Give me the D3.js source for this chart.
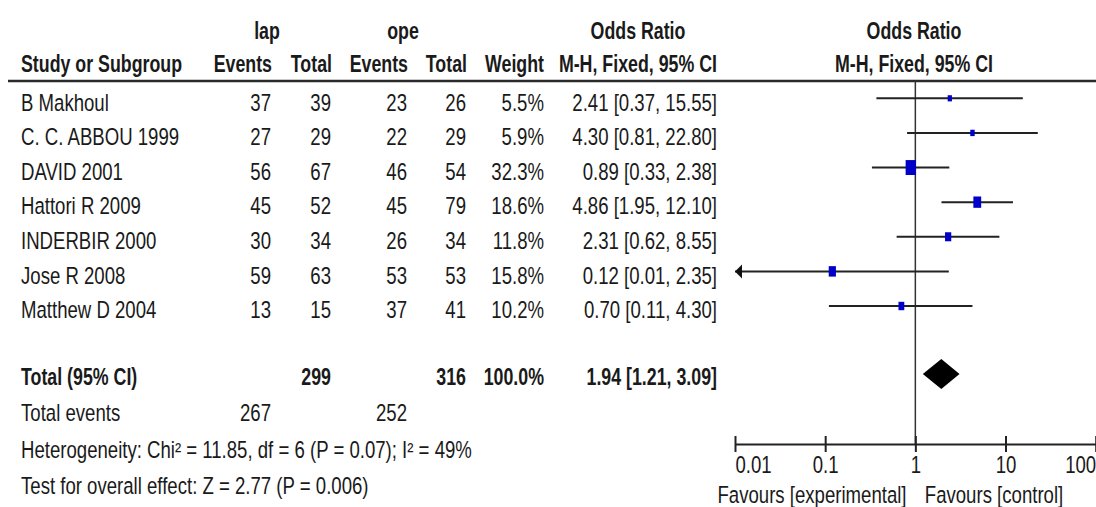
<!DOCTYPE html>
<html><head><meta charset="utf-8">
<script src="https://cdn.jsdelivr.net/npm/d3@7"></script>
<style>
html,body{margin:0;padding:0;background:#fff;}
svg text{font-family:"Liberation Sans",Arial,sans-serif;fill:#1a1a1a;}
</style></head>
<body>
<svg id="chart" width="1096" height="507"></svg>
<script>
const studies = ["B Makhoul","C. C. ABBOU 1999","DAVID 2001","Hattori R 2009","INDERBIR 2000","Jose R 2008","Matthew D 2004"];
const lapEvents = [37,27,56,45,30,59,13];
const lapTotal = [39,29,67,52,34,63,15];
const opeEvents = [23,22,46,45,26,53,37];
const opeTotal = [26,29,54,79,34,53,41];
const weights = [5.5,5.9,32.3,18.6,11.8,15.8,10.2];
const oddsRatio = [2.41,4.30,0.89,4.86,2.31,0.12,0.70];
const ciLower = [0.37,0.81,0.33,1.95,0.62,0.01,0.11];
const ciUpper = [15.55,22.80,2.38,12.10,8.55,2.35,4.30];
const totalOR = [1.94, 1.21, 3.09];
const totalN = [299, 316];
const totalEvents = [267, 252];
const tickValues = [0.01, 0.1, 1, 10, 100];
const tickLabels = ["0.01", "0.1", "1", "10", "100"];
const footLines = ["Heterogeneity: Chi\u00b2 = 11.85, df = 6 (P = 0.07); I\u00b2 = 49%", "Test for overall effect: Z = 2.77 (P = 0.006)"];

const svg = d3.select("#chart");
const FS = 18.6, SY = 1.24, FSB = 17.8, SYB = 1.3;
function txt(x, y, s, opts = {}) {
  const b = !!opts.bold;
  return svg.append("text")
    .attr("transform", `translate(${x},${y}) scale(1,${b ? SYB : SY})`)
    .attr("dominant-baseline", "central")
    .attr("text-anchor", opts.anchor || "start")
    .attr("font-weight", b ? "bold" : "normal")
    .attr("font-size", b ? FSB : FS)
    .text(s);
}

const x = d3.scaleLog().domain([0.01, 100]).range([735, 1095.7]);
const y = d3.scaleLinear().domain([0, studies.length - 1]).range([98.3, 306]);
const sizeW = d3.scaleSqrt().domain([0, 32.3]).range([0, 10.3]);
const TOFF = 4;
const cols = {lapE: 271, lapT: 331, opeE: 407, opeT: 466, w: 544, or: 717};

// headers
txt(267, 31, "lap", {anchor: "middle", bold: true});
txt(403, 31, "ope", {anchor: "middle", bold: true});
txt(638, 31, "Odds Ratio", {anchor: "middle", bold: true});
txt(914, 31, "Odds Ratio", {anchor: "middle", bold: true});
txt(21, 64, "Study or Subgroup", {bold: true});
txt(cols.lapE + 1, 64, "Events", {anchor: "end", bold: true});
txt(cols.lapT + 1, 64, "Total", {anchor: "end", bold: true});
txt(cols.opeE + 1, 64, "Events", {anchor: "end", bold: true});
txt(cols.opeT + 1, 64, "Total", {anchor: "end", bold: true});
txt(cols.w, 64, "Weight", {anchor: "end", bold: true});
txt(cols.or, 64, "M-H, Fixed, 95% CI", {anchor: "end", bold: true});
txt(914, 64, "M-H, Fixed, 95% CI", {anchor: "middle", bold: true});

// header rule
svg.append("line").attr("x1", 8).attr("x2", 1096).attr("y1", 81).attr("y2", 81)
  .attr("stroke", "#2a2a2a").attr("stroke-width", 2.5);

// vertical line at 1
svg.append("line").attr("x1", x(1)).attr("x2", x(1)).attr("y1", 81).attr("y2", 444)
  .attr("stroke", "#333").attr("stroke-width", 1.5);

const fmt2 = d3.format(".2f");
studies.forEach((s, i) => {
  const yy = y(i) + TOFF;
  txt(21, yy, s);
  txt(cols.lapE, yy, lapEvents[i], {anchor: "end"});
  txt(cols.lapT, yy, lapTotal[i], {anchor: "end"});
  txt(cols.opeE, yy, opeEvents[i], {anchor: "end"});
  txt(cols.opeT, yy, opeTotal[i], {anchor: "end"});
  txt(cols.w, yy, weights[i].toFixed(1) + "%", {anchor: "end"});
  txt(cols.or, yy, `${fmt2(oddsRatio[i])} [${fmt2(ciLower[i])}, ${fmt2(ciUpper[i])}]`, {anchor: "end"});
});

// CI lines
const g = svg.append("g");
g.selectAll("line.ci").data(studies).join("line").attr("class", "ci")
  .attr("x1", (d, i) => x(Math.max(ciLower[i], 0.01)))
  .attr("x2", (d, i) => x(Math.min(ciUpper[i], 100)))
  .attr("y1", (d, i) => y(i)).attr("y2", (d, i) => y(i))
  .attr("stroke", "#222").attr("stroke-width", 2);
// arrows where CI exceeds range
g.selectAll("path.arrow").data(studies.map((d, i) => i).filter(i => ciLower[i] <= 0.01)).join("path")
  .attr("class", "arrow")
  .attr("d", i => `M${x(0.01)},${y(i)} L${x(0.01) + 7},${y(i) - 7} L${x(0.01) + 7},${y(i) + 7} Z`)
  .attr("fill", "#111");
// squares
g.selectAll("rect.sq").data(studies).join("rect").attr("class", "sq")
  .attr("x", (d, i) => x(oddsRatio[i]) - sizeW(weights[i]) / 2)
  .attr("y", (d, i) => y(i) - sizeW(weights[i]) * 1.45 / 2)
  .attr("width", (d, i) => sizeW(weights[i]))
  .attr("height", (d, i) => sizeW(weights[i]) * 1.45)
  .attr("fill", "#0000c8");

// total row
const ty = 374;
txt(21, ty + 3, "Total (95% CI)", {bold: true});
txt(cols.lapT, ty + 3, totalN[0], {anchor: "end", bold: true});
txt(cols.opeT, ty + 3, totalN[1], {anchor: "end", bold: true});
txt(cols.w, ty + 3, "100.0%", {anchor: "end", bold: true});
txt(cols.or, ty + 3, `${fmt2(totalOR[0])} [${fmt2(totalOR[1])}, ${fmt2(totalOR[2])}]`, {anchor: "end", bold: true});
svg.append("path")
  .attr("d", `M${x(totalOR[1])},${ty} L${x(totalOR[0])},${ty - 15} L${x(totalOR[2])},${ty} L${x(totalOR[0])},${ty + 15} Z`)
  .attr("fill", "#000");

txt(21, 413, "Total events");
txt(cols.lapE, 413, totalEvents[0], {anchor: "end"});
txt(cols.opeE, 413, totalEvents[1], {anchor: "end"});
txt(21, 450, footLines[0]);
txt(21, 486, footLines[1]);

// axis
const axis = d3.axisBottom(x).tickValues(tickValues).tickFormat((d, i) => tickLabels[i]).tickSizeOuter(0);
const ag = svg.append("g").attr("transform", "translate(0,444)").call(axis);
ag.select(".domain").attr("stroke", "#222").attr("stroke-width", 2);
ag.selectAll(".tick line").attr("y1", -8).attr("y2", 8).attr("stroke", "#222").attr("stroke-width", 2);
ag.selectAll(".tick text")
  .attr("y", null).attr("dy", null)
  .attr("transform", `translate(0,21) scale(1,${SY})`)
  .attr("dominant-baseline", "central")
  .attr("font-size", FS).attr("fill", "#1a1a1a")
  .attr("font-family", '"Liberation Sans",Arial,sans-serif');
ag.selectAll(".tick").filter(d => d === 0.01).select("text").attr("text-anchor", "start").attr("x", 0);
ag.selectAll(".tick").filter(d => d === 100).select("text").attr("text-anchor", "end");

txt(812, 495, "Favours [experimental]", {anchor: "middle"});
txt(994, 495, "Favours [control]", {anchor: "middle"});
</script>
</body></html>
